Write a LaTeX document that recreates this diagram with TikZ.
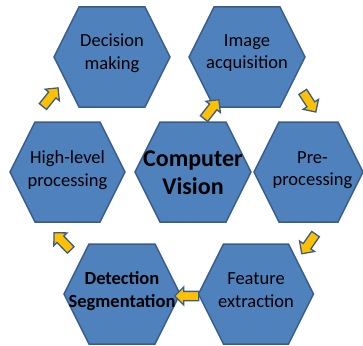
\documentclass[tikz,border=0pt]{standalone}
\usepackage{fontspec}
\setmainfont{Carlito}
\usetikzlibrary{shapes.arrows}

\definecolor{hexblue}{HTML}{4F81BD}
\definecolor{hexedge}{HTML}{385D8A}
\definecolor{arrowgold}{HTML}{FFC000}

% hexagon cell: name, centre, width, text options, text
\newcommand{\hexcell}[5]{%
  \filldraw[hexbody] (#2) ++({-(#3)/2},0) -- ++(25,-50) -- ++({#3-50},0)
    -- ++(25,50) -- ++(-25,50) -- ++({50-(#3)},0) -- cycle;
  \node[cellword, #4] (#1) at (#2) {#5};}

\begin{document}
\begin{tikzpicture}[x=1pt, y=-1pt, line width=1.5pt,
        every node/.append style={font=\fontsize{18.5}{22.5}\selectfont}]
      \tikzstyle{hexbody} = [fill=hexblue, draw=hexedge, line join=miter]
      \tikzstyle{cellword} = [align=center, text=black, inner sep=0pt]
      \tikzstyle{flow} = [single arrow, draw=hexedge, fill=arrowgold, line width=1.3pt,
        inner sep=4pt, minimum height=24pt, single arrow head extend=4.5pt]
      \useasboundingbox (0,0) rectangle (363,345);

      \hexcell{decision}{112,57}{116}{yshift=4pt}{Decision\\making}
      \hexcell{acquisition}{247,57}{116}{yshift=4pt}{Image\\acquisition}
      \hexcell{highlevel}{67.5,172}{115}{yshift=2pt}{High-level\\processing}
      \hexcell{vision}{193,172}{116}{yshift=-1pt, font=\fontsize{24}{28}\selectfont\bfseries}{Computer\\Vision}
      \hexcell{preproc}{308.5,172}{109}{yshift=2pt, xshift=4pt}{Pre-\\processing}
      \hexcell{detection}{122,294}{116}{yshift=3pt, font=\fontsize{18.5}{22.5}\selectfont\bfseries}{Detection\\Segmentation}
      \hexcell{feature}{256,294}{115}{yshift=4pt}{Feature\\extraction}

      \node (toDecision) [flow, rotate=51] at (49,99) {};
      \node (toAcquisition) [flow, rotate=52] at (210,111) {};
      \node (toPreproc) [flow, rotate=-57] at (308,100) {};
      \node (toFeature) [flow, rotate=-125] at (310,242) {};
      \node (toDetection) [flow, rotate=180] at (189,296) {};
      \node (toHighlevel) [flow, rotate=134] at (64,243) {};
    \end{tikzpicture}
\end{document}
